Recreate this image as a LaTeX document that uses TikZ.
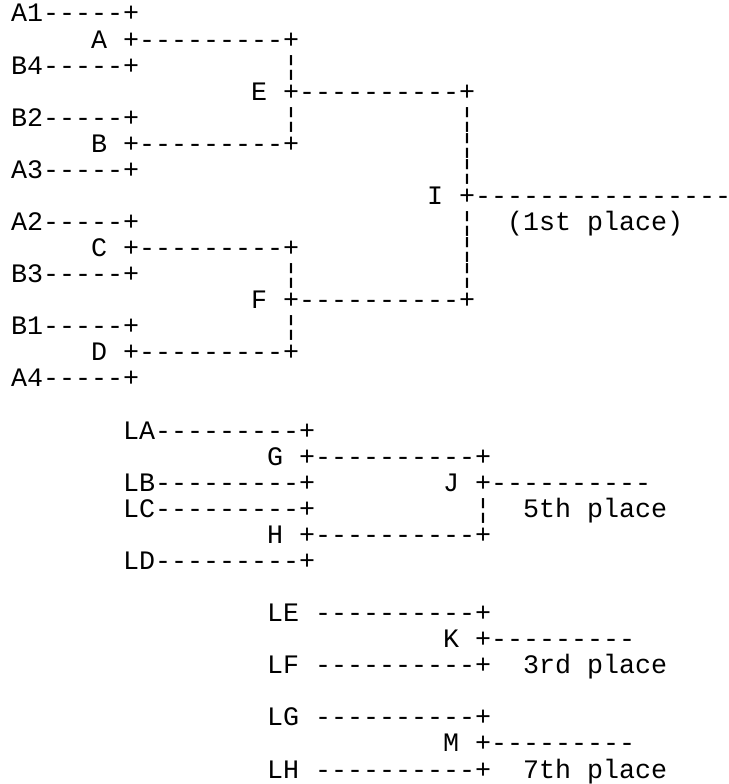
\documentclass[tikz,border=0pt]{standalone}
\usepackage{fontspec}
\setmonofont{Liberation Mono}
\tikzset{
  txt/.style={anchor=base west, inner sep=0pt, outer sep=0pt, text=black,
    font=\ttfamily\fontsize{26.667pt}{26pt}\selectfont}
}
\newcommand\seg[4]{\node[txt] (#1) at ({11+16*#2}, {-22-26.07*#3}) {#4};}
\begin{document}
\begin{tikzpicture}[x=1pt,y=1pt]
\fill[white] (0,0) rectangle (728,-784);
\useasboundingbox (0,0) rectangle (728,-784);
% main bracket
\seg{r0}{0}{0}{A1-----+}
\seg{r1}{5}{1}{A +---------+}
\seg{r2a}{0}{2}{B4-----+}
\seg{r2b}{17}{2}{¦}
\seg{r3}{15}{3}{E +----------+}
\seg{r4a}{0}{4}{B2-----+}
\seg{r4b}{17}{4}{¦}
\seg{r4c}{28}{4}{¦}
\seg{r5a}{5}{5}{B +---------+}
\seg{r5b}{28}{5}{¦}
\seg{r6a}{0}{6}{A3-----+}
\seg{r6b}{28}{6}{¦}
\seg{r7}{26}{7}{I +----------------}
\seg{r8a}{0}{8}{A2-----+}
\seg{r8b}{28}{8}{¦}
\seg{r8c}{31}{8}{(1st place)}
\seg{r9a}{5}{9}{C +---------+}
\seg{r9b}{28}{9}{¦}
\seg{r10a}{0}{10}{B3-----+}
\seg{r10b}{17}{10}{¦}
\seg{r10c}{28}{10}{¦}
\seg{r11}{15}{11}{F +----------+}
\seg{r12a}{0}{12}{B1-----+}
\seg{r12b}{17}{12}{¦}
\seg{r13}{5}{13}{D +---------+}
\seg{r14}{0}{14}{A4-----+}
% 5th place bracket
\seg{r16}{7}{16}{LA---------+}
\seg{r17}{16}{17}{G +----------+}
\seg{r18a}{7}{18}{LB---------+}
\seg{r18b}{27}{18}{J +----------}
\seg{r19a}{7}{19}{LC---------+}
\seg{r19b}{29}{19}{¦}
\seg{r19c}{32}{19}{5th place}
\seg{r20}{16}{20}{H +----------+}
\seg{r21}{7}{21}{LD---------+}
% 3rd place
\seg{r23}{16}{23}{LE ----------+}
\seg{r24}{27}{24}{K +---------}
\seg{r25a}{16}{25}{LF ----------+}
\seg{r25b}{32}{25}{3rd place}
% 7th place
\seg{r27}{16}{27}{LG ----------+}
\seg{r28}{27}{28}{M +---------}
\seg{r29a}{16}{29}{LH ----------+}
\seg{r29b}{32}{29}{7th place}
\end{tikzpicture}
\end{document}
